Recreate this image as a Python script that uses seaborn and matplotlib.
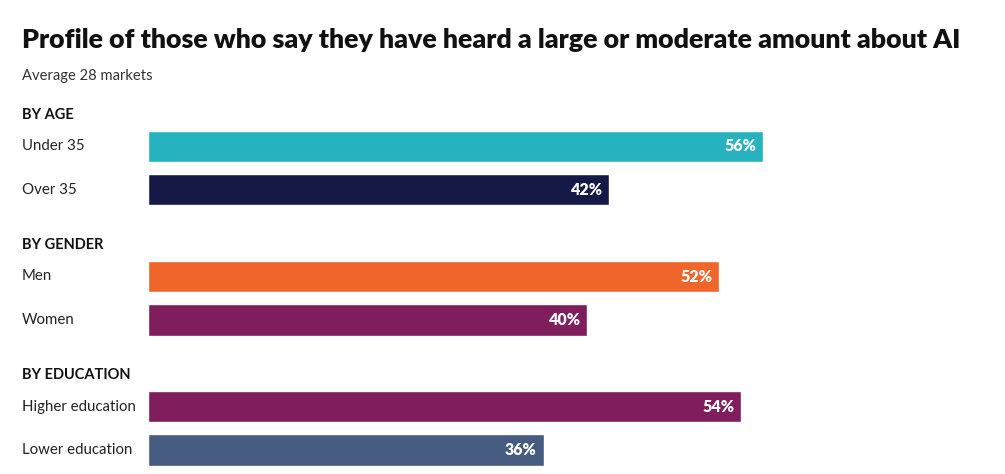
import pandas as pd
import matplotlib.pyplot as plt
import seaborn as sns

# ── Data ─────────────────────────────────────────────────────────────────────
groups = ["BY AGE", "BY GENDER", "BY EDUCATION"]
categories = ["Under 35", "Over 35", "Men", "Women", "Higher education", "Lower education"]
category_group = ["BY AGE", "BY AGE", "BY GENDER", "BY GENDER", "BY EDUCATION", "BY EDUCATION"]
values = [56, 42, 52, 40, 54, 36]
bar_colors = ["#27b2bf", "#141a45", "#f0652a", "#801d5c", "#801d5c", "#465b80"]

TITLE = "Profile of those who say they have heard a large or moderate amount about AI"
SUBTITLE = "Average 28 markets"

df = pd.DataFrame({"Category": categories, "Group": category_group, "Value": values})

# slot order: each group header takes an empty slot above its bars
order = []
for g in groups:
    order.append(g)
    order.extend(df.loc[df["Group"] == g, "Category"])

sns.set_theme(style="white")
plt.rcParams["font.family"] = ["Lato", "DejaVu Sans"]

fig = plt.figure(figsize=(10.05, 4.74), dpi=100)
ax = fig.add_axes([148 / 1005, 0, 1 - 148 / 1005, 1])

sns.barplot(data=df, x="Value", y="Category", order=order, hue="Category",
            palette=dict(zip(categories, bar_colors)), legend=False,
            width=0.72, saturation=1, ax=ax)

ax.set_xlim(0, 78)
ax.set_ylim(8.55, -2.37)
ax.set_axis_off()

# value labels inside bar ends
for cat, val in zip(categories, values):
    k = order.index(cat)
    ax.annotate(f"{val}%", (val, k), xytext=(-5, 0), textcoords="offset points",
                ha="right", va="center", color="white", fontsize=11.5, fontweight="heavy")

# row labels and group headers at the left edge of the figure
lab_x = -126 / 857 * 78  # data units: 22 px from figure left
for name in order:
    k = order.index(name)
    if name in groups:
        ax.text(lab_x, k + 0.28, name, ha="left", va="center", fontsize=10.5,
                fontweight="bold", color="#111111")
    else:
        ax.text(lab_x, k, name, ha="left", va="center", fontsize=10.8, color="#222222")

fig.text(22 / 1005, 1 - 40 / 474, TITLE, ha="left", va="center", fontsize=19.3,
         fontweight="heavy", color="#111111")
fig.text(22 / 1005, 1 - 76 / 474, SUBTITLE, ha="left", va="center", fontsize=10.6,
         color="#333333")

fig.savefig("out.png", dpi=100, facecolor="white")
